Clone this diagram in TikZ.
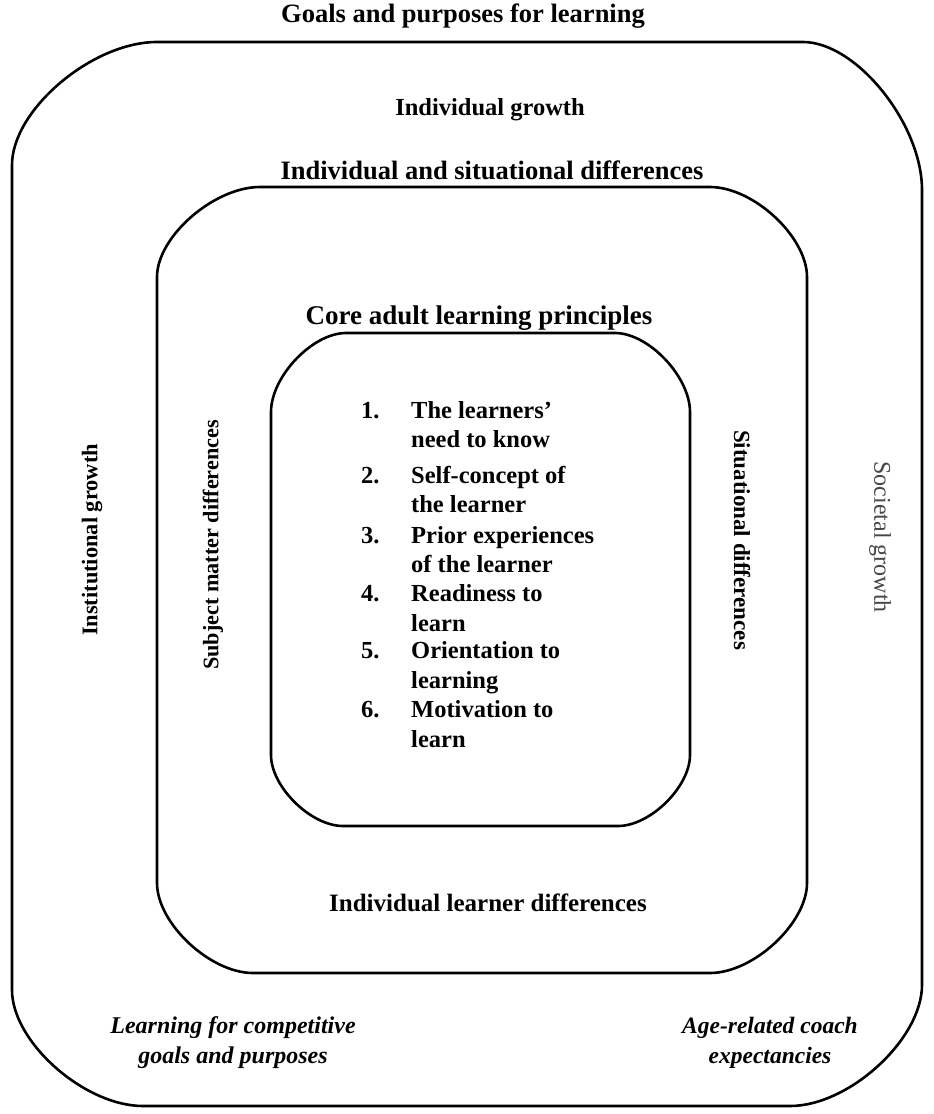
\documentclass[tikz,border=0pt]{standalone}
\usepackage{fontspec}
\setmainfont{Liberation Serif}
\newcommand{\fs}[1]{\fontsize{#1}{#1}\selectfont}
\begin{document}
\begin{tikzpicture}[x=1pt,y=-1pt,
  frame/.style={line width=2.6pt, black},
  lbl/.style={font=\bfseries, inner sep=0pt},
  itl/.style={font=\bfseries\itshape, align=center, inner sep=0pt},
  item/.style={font=\fs{24.5}\bfseries, inner sep=0pt, anchor=base west}]
\useasboundingbox (0,0) rectangle (934,1114);
\fill[white] (0,0) rectangle (934,1114);
\def\k{0.4477}
% outer box (per-corner radii)
\draw[frame] (12,165) .. controls (12,165-\k*123) and (157-\k*145,42) .. (157,42)
  -- (803,42) .. controls (803+\k*119,42) and (922,190-\k*148) .. (922,190)
  -- (922,985) .. controls (922,985+\k*121) and (790+\k*132,1106) .. (790,1106)
  -- (143,1106) .. controls (143-\k*131,1106) and (12,990+\k*116) .. (12,990) -- cycle;
% middle box
\draw[frame] (157,277) .. controls (157,277-\k*90) and (260-\k*103,187) .. (260,187)
  -- (710,187) .. controls (710+\k*97,187) and (807,277-\k*90) .. (807,277)
  -- (807,883) .. controls (807,883+\k*90) and (710+\k*97,973) .. (710,973)
  -- (253,973) .. controls (253-\k*96,973) and (157,883+\k*90) .. (157,883) -- cycle;
% inner box
\draw[frame] (271,412) .. controls (271,412-\k*79) and (346-\k*75,333) .. (346,333)
  -- (615,333) .. controls (615+\k*75,333) and (690,412-\k*79) .. (690,412)
  -- (690,755) .. controls (690,755+\k*71) and (618+\k*72,826) .. (618,826)
  -- (343,826) .. controls (343-\k*72,826) and (271,755+\k*71) .. (271,755) -- cycle;

\node[lbl, font=\fs{26.5}\bfseries] (goals) at (463,16) {Goals and purposes for learning};
\node[lbl, font=\fs{24.5}\bfseries] (indgrowth) at (490,110) {Individual growth};
\node[lbl, font=\fs{26.5}\bfseries] (isd) at (492,170) {Individual and situational differences};
\node[lbl, font=\fs{27}\bfseries] (core) at (479,318) {Core adult learning principles};
\node[lbl, font=\fs{25}\bfseries] (ild) at (488,903) {Individual learner differences};
\node[lbl, font=\fs{22.4}\bfseries, rotate=90] (inst) at (92,540) {Institutional growth};
\node[lbl, font=\fs{22.2}\bfseries, rotate=90] (subj) at (213,545) {Subject matter differences};
\node[lbl, font=\fs{23}\bfseries, rotate=-90] (sit) at (742,540) {Situational differences};
\node[inner sep=0pt, rotate=-90, font=\fs{24}, text=black!72] (soc) at (880,537) {Societal growth};
\node[itl, font=\fs{24}\bfseries\itshape] (comp) at (233,1043) {Learning for competitive\\[6pt]goals and purposes};
\node[itl, font=\fs{23.5}\bfseries\itshape] (age) at (770,1043) {Age-related coach\\[6pt]expectancies};

\foreach \n/\y/\t [count=\i] in {1./418/The learners',/447/need to know,2./483/Self-concept of,/512/the learner,3./543/Prior experiences,/572/of the learner,4./601/Readiness to,/631/learn,5./658/Orientation to,/688/learning,6./717/Motivation to,/747/learn}{
  \node[item] (num\i) at (361,\y) {\n};
  \node[item] (it\i) at (411,\y) {\t};
}
\end{tikzpicture}
\end{document}
